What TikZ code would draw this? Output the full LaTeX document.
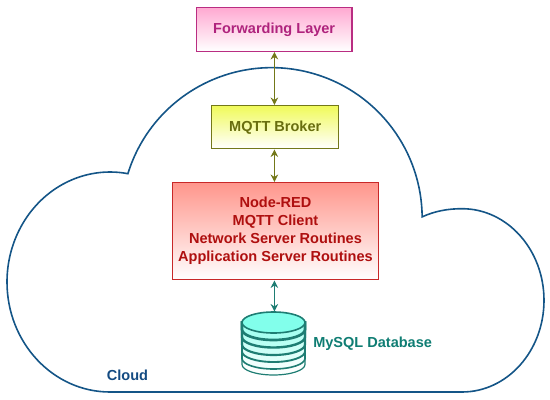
\documentclass[tikz,border=0pt]{standalone}
\usepackage{fontspec}
\setmainfont{Liberation Sans}
\usetikzlibrary{arrows.meta}
\definecolor{cloudblue}{RGB}{20,85,135}
\definecolor{cloudtxt}{RGB}{20,75,130}
\definecolor{fwdc}{RGB}{185,45,130}
\definecolor{fwdt}{RGB}{175,35,125}
\definecolor{fwdf}{RGB}{255,170,210}
\definecolor{brkc}{RGB}{115,120,25}
\definecolor{brkt}{RGB}{105,110,15}
\definecolor{brkf}{RGB}{240,250,90}
\definecolor{redc}{RGB}{200,40,40}
\definecolor{redt}{RGB}{175,15,15}
\definecolor{redf}{RGB}{255,150,140}
\definecolor{tealc}{RGB}{30,125,115}
\definecolor{tealt}{RGB}{15,125,115}
\definecolor{tealf}{RGB}{130,255,235}
\tikzset{
  box/.style={draw=#1c,line width=1.1pt,top color=#1f,bottom color=white,text=#1t,
    font=\bfseries\fontsize{10.9}{13.5}\selectfont,align=center,inner sep=0pt,anchor=north west},
  lbl/.style={font=\bfseries\fontsize{10.9}{13}\selectfont,inner sep=0pt},
  dblink/.style={line width=1.3pt,{Stealth[length=5.6pt,width=5.6pt]}-{Stealth[length=5.6pt,width=5.6pt]}},
  disc/.style={draw=tealc,line width=1.5pt},
}
\newcommand{\dbdisc}[3]{%
  \draw[disc,line width=#3,fill=tealf!#2!white] (242,322.5) -- (242,#1) arc[start angle=180,end angle=0,x radius=31.5,y radius=10.5] -- (305,322.5) -- cycle;
}
\begin{document}
\begin{tikzpicture}[x=.75pt,y=-.75pt]
\useasboundingbox (0,0) rectangle (550,400);
% cloud
\draw[cloudblue,line width=1.2pt,line join=miter]
  (110,392) arc[start angle=90,end angle=280,x radius=103,y radius=110]
  arc[start angle=197.2,end angle=359.5,radius=150.5]
  .. controls (435,211) and (448,208.7) .. (462,208.7)
  arc[start angle=270,end angle=450,x radius=82,y radius=91.65]
  -- cycle;
\node[lbl,text=cloudtxt] (cloud) at (127.5,375) {Cloud};
% boxes
\node[box=fwd,minimum width=155.5*.75pt,minimum height=43.5*.75pt] (fwd) at (195.7,7) {Forwarding Layer};
\node[box=brk,minimum width=127*.75pt,minimum height=43*.75pt] (brk) at (211,105) {MQTT Broker};
\node[box=red,minimum width=206.5*.75pt,minimum height=97*.75pt] (red) at (171.5,182) {Node-RED\\MQTT Client\\Network Server Routines\\Application Server Routines};
% database
\coordinate (db) at (274,311.5);
\dbdisc{364.5}{3}{.9pt}
\dbdisc{358.5}{12}{1.2pt}
\dbdisc{351.5}{25}{1.4pt}
\dbdisc{344.5}{40}{1.6pt}
\dbdisc{337}{55}{1.8pt}
\dbdisc{329.5}{70}{2pt}
\draw[disc,line width=1.2pt,fill=tealf] (273.5,322.5) ellipse[x radius=31.5,y radius=10.5];
\node[lbl,text=tealt,anchor=west] (dbl) at (313,343.5) {MySQL Database};
% links
\draw[dblink,brkc] (brk.north -| 274.4,0) -- (fwd.south -| 274.4,0);
\draw[dblink,brkc] (red.north -| 274.4,0) -- (brk.south -| 274.4,0);
\draw[dblink,tealc] (db -| 274.4,0) -- (red.south -| 274.4,0);
\end{tikzpicture}
\end{document}
